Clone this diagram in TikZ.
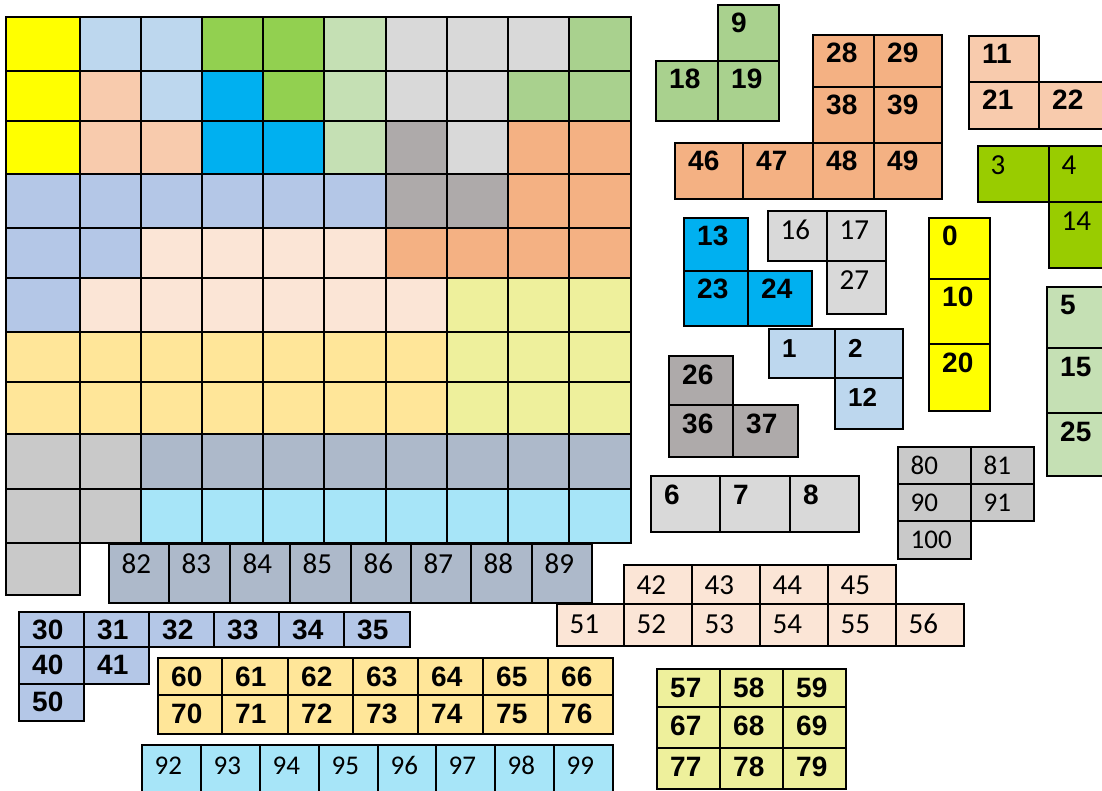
\documentclass[tikz,border=0pt]{standalone}
\usepackage{fontspec}
\setmainfont{Liberation Sans}
\newfontfamily\cfont{Carlito}
\definecolor{cY}{HTML}{FFFF00}
\definecolor{cLB}{HTML}{BDD7EE}
\definecolor{cG}{HTML}{92D050}
\definecolor{cLG}{HTML}{C5E0B4}
\definecolor{cLGR}{HTML}{D9D9D9}
\definecolor{cMG}{HTML}{A9D18E}
\definecolor{cPE}{HTML}{F8CBAD}
\definecolor{cCY}{HTML}{00B0F0}
\definecolor{cDG}{HTML}{AEAAAA}
\definecolor{cOR}{HTML}{F4B183}
\definecolor{cBL}{HTML}{B4C7E7}
\definecolor{cPA}{HTML}{FBE5D6}
\definecolor{cYG}{HTML}{EEF09C}
\definecolor{cGD}{HTML}{FFE699}
\definecolor{cGR}{HTML}{C9C9C9}
\definecolor{cSL}{HTML}{ADB9CA}
\definecolor{cSK}{HTML}{A7E5F8}
\definecolor{cLM}{HTML}{99CC00}
\def\XS{{6,80,141,202,263,324,386,447,508,569,631}}
\def\YS{{17,71,121,174,228,278,332,382,434,489,543,595}}
\newcommand\gcell[3]{%
  \pgfmathsetmacro\xa{\XS[#1]}\pgfmathsetmacro\xb{\XS[#1+1]}%
  \pgfmathsetmacro\ya{\YS[#2]}\pgfmathsetmacro\yb{\YS[#2+1]}%
  \draw[gridcell,fill=#3] (\xa,\ya) rectangle (\xb,\yb);}
\newcommand\pc[6]{%
  \draw[piece,fill=#5] (#1,#2) rectangle (#3,#4);
  \node[lab] (n#6) at (#1+13,#2+28) {#6};}
\newcommand\pcs[6]{%
  \draw[piece,fill=#5] (#1,#2) rectangle (#3,#4);
  \node[lab] (n#6) at (#1+13,#2+27) {#6};}
\newcommand\pcr[6]{%
  \draw[piece,fill=#5] (#1,#2) rectangle (#3,#4);
  \node[labr] (n#6) at (#1+12.5,#2+29) {#6};}
\tikzset{
  gridcell/.style={draw=black,line width=2.8pt},
  piece/.style={draw=black,line width=2.3pt},
  lab/.style={anchor=base west,inner sep=0pt,font=\bfseries\fontsize{28}{30}\selectfont},
  labr/.style={anchor=base west,inner sep=0pt,font=\cfont\fontsize{29}{31}\selectfont},
}
\begin{document}
\begin{tikzpicture}[x=1pt,y=-1pt]
\useasboundingbox (0,0) rectangle (1102,791);
\clip (0,0) rectangle (1102,791);
\fill[white] (0,0) rectangle (1102,791);
% main grid
\foreach \c [count=\i from 0] in {cY,cLB,cLB,cG,cG,cLG,cLGR,cLGR,cLGR,cMG} {\gcell{\i}{0}{\c}}
\foreach \c [count=\i from 0] in {cY,cPE,cLB,cCY,cG,cLG,cLGR,cLGR,cMG,cMG} {\gcell{\i}{1}{\c}}
\foreach \c [count=\i from 0] in {cY,cPE,cPE,cCY,cCY,cLG,cDG,cLGR,cOR,cOR} {\gcell{\i}{2}{\c}}
\foreach \c [count=\i from 0] in {cBL,cBL,cBL,cBL,cBL,cBL,cDG,cDG,cOR,cOR} {\gcell{\i}{3}{\c}}
\foreach \c [count=\i from 0] in {cBL,cBL,cPA,cPA,cPA,cPA,cOR,cOR,cOR,cOR} {\gcell{\i}{4}{\c}}
\foreach \c [count=\i from 0] in {cBL,cPA,cPA,cPA,cPA,cPA,cPA,cYG,cYG,cYG} {\gcell{\i}{5}{\c}}
\foreach \c [count=\i from 0] in {cGD,cGD,cGD,cGD,cGD,cGD,cGD,cYG,cYG,cYG} {\gcell{\i}{6}{\c}}
\foreach \c [count=\i from 0] in {cGD,cGD,cGD,cGD,cGD,cGD,cGD,cYG,cYG,cYG} {\gcell{\i}{7}{\c}}
\foreach \c [count=\i from 0] in {cGR,cGR,cSL,cSL,cSL,cSL,cSL,cSL,cSL,cSL} {\gcell{\i}{8}{\c}}
\foreach \c [count=\i from 0] in {cGR,cGR,cSK,cSK,cSK,cSK,cSK,cSK,cSK,cSK} {\gcell{\i}{9}{\c}}
\gcell{0}{10}{cGR}
% 9 18 19
\pc{718}{5}{779}{61}{cMG}{9}
\pc{656}{61}{718}{121}{cMG}{18}
\pc{718}{61}{779}{121}{cMG}{19}
% orange piece
\pc{813}{35}{874}{87}{cOR}{28}
\pc{874}{35}{942}{87}{cOR}{29}
\pc{813}{87}{874}{143}{cOR}{38}
\pc{874}{87}{942}{143}{cOR}{39}
\pc{675}{143}{743}{199}{cOR}{46}
\pc{743}{143}{813}{199}{cOR}{47}
\pc{813}{143}{874}{199}{cOR}{48}
\pc{874}{143}{942}{199}{cOR}{49}
% 11 21 22
\pc{969}{36}{1039}{82}{cPE}{11}
\pc{969}{82}{1039}{129}{cPE}{21}
\pc{1039}{82}{1110}{129}{cPE}{22}
% 3 4 14
\pcr{978}{146}{1049}{202}{cLM}{3}
\pcr{1049}{146}{1110}{202}{cLM}{4}
\pcr{1049}{202}{1110}{268}{cLM}{14}
% 13 23 24
\pc{684}{218}{748}{271}{cCY}{13}
\pc{684}{271}{748}{326}{cCY}{23}
\pc{748}{271}{812}{326}{cCY}{24}
% 16 17 27
\pcr{768}{211}{827}{261}{cLGR}{16}
\pcr{827}{211}{886}{261}{cLGR}{17}
\pcr{827}{261}{886}{314}{cLGR}{27}
% 0 10 20
\pc{929}{218}{990}{279}{cY}{0}
\pc{929}{279}{990}{344}{cY}{10}
\pc{929}{344}{990}{411}{cY}{20}
% 5 15 25
\pc{1047}{287}{1110}{348}{cLG}{5}
\pc{1047}{348}{1110}{413}{cLG}{15}
\pc{1047}{413}{1110}{476}{cLG}{25}
% 1 2 12
\begin{scope}[lab/.append style={font=\bfseries\fontsize{26}{28}\selectfont}]
\pc{769}{329}{835}{378}{cLB}{1}
\pc{835}{329}{903}{378}{cLB}{2}
\pc{835}{378}{903}{429}{cLB}{12}
\end{scope}
% 26 36 37
\pc{669}{356}{733}{405}{cDG}{26}
\pc{669}{405}{733}{457}{cDG}{36}
\pc{733}{405}{798}{457}{cDG}{37}
% 6 7 8
\pc{651}{476}{720}{532}{cLGR}{6}
\pc{720}{476}{790}{532}{cLGR}{7}
\pc{790}{476}{859}{532}{cLGR}{8}
% 80 81 90 91 100
\begin{scope}[labr/.append style={font=\cfont\fontsize{27}{29}\selectfont}]
\draw[piece,fill=cGR] (898,447) rectangle (971,484); \node[labr] (n80) at (898+12.5,447+27) {80};
\draw[piece,fill=cGR] (971,447) rectangle (1034,484); \node[labr] (n81) at (971+12.5,447+27) {81};
\draw[piece,fill=cGR] (898,484) rectangle (971,521); \node[labr] (n90) at (898+12.5,484+27) {90};
\draw[piece,fill=cGR] (971,484) rectangle (1034,521); \node[labr] (n91) at (971+12.5,484+27) {91};
\draw[piece,fill=cGR] (898,521) rectangle (971,559); \node[labr] (n100) at (898+12.5,521+27) {100};
\end{scope}
% 82-89
\pcr{109}{544}{169}{603}{cSL}{82}
\pcr{169}{544}{230}{603}{cSL}{83}
\pcr{230}{544}{290}{603}{cSL}{84}
\pcr{290}{544}{351}{603}{cSL}{85}
\pcr{351}{544}{411}{603}{cSL}{86}
\pcr{411}{544}{471}{603}{cSL}{87}
\pcr{471}{544}{532}{603}{cSL}{88}
\pcr{532}{544}{592}{603}{cSL}{89}
% 42-45, 51-56
\pcr{624}{565}{692}{604}{cPA}{42}
\pcr{692}{565}{760}{604}{cPA}{43}
\pcr{760}{565}{828}{604}{cPA}{44}
\pcr{828}{565}{896}{604}{cPA}{45}
\pcr{557}{604}{624}{646}{cPA}{51}
\pcr{624}{604}{692}{646}{cPA}{52}
\pcr{692}{604}{760}{646}{cPA}{53}
\pcr{760}{604}{828}{646}{cPA}{54}
\pcr{828}{604}{896}{646}{cPA}{55}
\pcr{896}{604}{964}{646}{cPA}{56}
% 30-35 40 41 50
\pcs{19}{612}{84}{647}{cBL}{30}
\pcs{84}{612}{149}{647}{cBL}{31}
\pcs{149}{612}{214}{647}{cBL}{32}
\pcs{214}{612}{279}{647}{cBL}{33}
\pcs{279}{612}{344}{647}{cBL}{34}
\pcs{344}{612}{410}{647}{cBL}{35}
\pcs{19}{647}{84}{684}{cBL}{40}
\pcs{84}{647}{149}{684}{cBL}{41}
\pcs{19}{684}{84}{721}{cBL}{50}
% 60-66 70-76
\pc{158}{658}{222}{695}{cGD}{60}
\pc{222}{658}{288}{695}{cGD}{61}
\pc{288}{658}{353}{695}{cGD}{62}
\pc{353}{658}{418}{695}{cGD}{63}
\pc{418}{658}{483}{695}{cGD}{64}
\pc{483}{658}{548}{695}{cGD}{65}
\pc{548}{658}{613}{695}{cGD}{66}
\pc{158}{695}{222}{734}{cGD}{70}
\pc{222}{695}{288}{734}{cGD}{71}
\pc{288}{695}{353}{734}{cGD}{72}
\pc{353}{695}{418}{734}{cGD}{73}
\pc{418}{695}{483}{734}{cGD}{74}
\pc{483}{695}{548}{734}{cGD}{75}
\pc{548}{695}{613}{734}{cGD}{76}
% 92-99
\begin{scope}[labr/.append style={font=\cfont\fontsize{27}{29}\selectfont}]
\pcr{142}{745}{201}{800}{cSK}{92}
\pcr{201}{745}{260}{800}{cSK}{93}
\pcr{260}{745}{319}{800}{cSK}{94}
\pcr{319}{745}{378}{800}{cSK}{95}
\pcr{378}{745}{436}{800}{cSK}{96}
\pcr{436}{745}{495}{800}{cSK}{97}
\pcr{495}{745}{554}{800}{cSK}{98}
\pcr{554}{745}{613}{800}{cSK}{99}
\end{scope}
% 57-79
\pc{657}{669}{720}{707}{cYG}{57}
\pc{720}{669}{783}{707}{cYG}{58}
\pc{783}{669}{846}{707}{cYG}{59}
\pc{657}{707}{720}{748}{cYG}{67}
\pc{720}{707}{783}{748}{cYG}{68}
\pc{783}{707}{846}{748}{cYG}{69}
\pc{657}{748}{720}{789}{cYG}{77}
\pc{720}{748}{783}{789}{cYG}{78}
\pc{783}{748}{846}{789}{cYG}{79}
\end{tikzpicture}
\end{document}
